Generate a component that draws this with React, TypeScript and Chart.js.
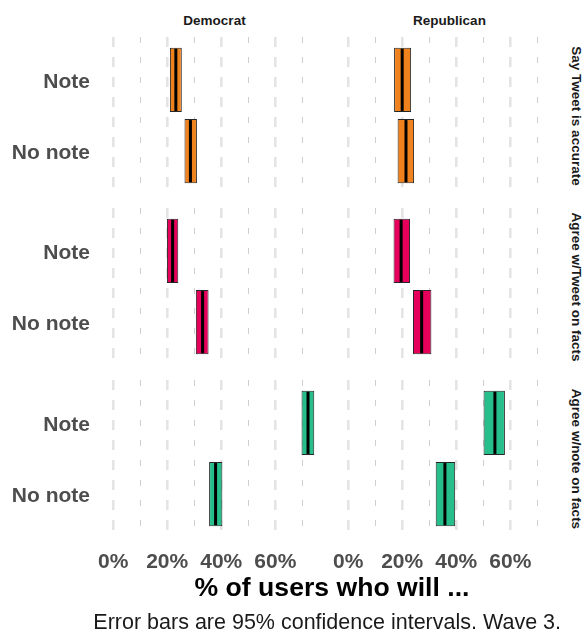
import React, { useEffect, useRef } from 'react';
import { Chart, registerables } from 'chart.js';

Chart.register(...registerables);

const categories = ['Note', 'No note'];
const parties = ['Democrat', 'Republican'];
const measures = ['Say Tweet is accurate', 'Agree w/Tweet on facts', 'Agree w/note on facts'];

// rows: measures; columns in each row: categories (Note, No note)
const demLow = [[21.0, 26.4], [19.9, 30.6], [69.7, 35.5]];
const demMean = [[23.2, 28.6], [22.0, 33.1], [72.1, 37.9]];
const demHigh = [[25.4, 31.0], [24.1, 35.3], [74.4, 40.4]];

const repLow = [[17.0, 18.3], [16.8, 24.0], [50.1, 32.4]];
const repMean = [[20.0, 21.4], [19.6, 27.2], [54.3, 35.8]];
const repHigh = [[23.3, 24.4], [22.9, 30.8], [58.0, 39.6]];

const xTicks = [0, 10, 20, 30, 40, 50, 60, 70];
const xMin = -3.75;
const xMax = 78.75;

const rowColors = ['#F0821E', '#E6005C', '#26BF8C'];

const xTitle = '% of users who will ...';
const caption = 'Error bars are 95% confidence intervals. Wave 3.';

const FONT = '"Liberation Sans", Arial, Helvetica, sans-serif';

const colLeft = [0, 326];
const colWidth = [326, 235];
const yAxisWidth = [103, 12];
const rowTop = [37, 208, 380];
const rowHeight = 157;
const xAxisHeight = 40;

const meanLinePlugin = {
  id: 'meanLine',
  afterDatasetsDraw(chart: any) {
    const ds: any = chart.data.datasets[0];
    const meta = chart.getDatasetMeta(0);
    const xs = chart.scales.x;
    const ctx = chart.ctx;
    ctx.save();
    ctx.strokeStyle = '#000000';
    ctx.lineWidth = 3;
    meta.data.forEach((el: any, i: number) => {
      const p = el.getProps(['y', 'height'], true);
      const px = xs.getPixelForValue(ds.means[i]);
      ctx.beginPath();
      ctx.moveTo(px, p.y - p.height / 2 + 1);
      ctx.lineTo(px, p.y + p.height / 2 - 1);
      ctx.stroke();
    });
    ctx.restore();
  },
};

function Panel({ row, col }: { row: number; col: number }) {
  const ref = useRef<HTMLCanvasElement | null>(null);
  useEffect(() => {
    const low = col === 0 ? demLow[row] : repLow[row];
    const mean = col === 0 ? demMean[row] : repMean[row];
    const high = col === 0 ? demHigh[row] : repHigh[row];
    const isBottom = row === 2;
    const isLeft = col === 0;
    const chart = new Chart(ref.current as HTMLCanvasElement, {
      type: 'bar',
      data: {
        datasets: [
          {
            data: categories.map((c, i) => ({ x: [low[i], high[i]], y: i + 1 })),
            means: mean,
            backgroundColor: rowColors[row],
            borderColor: '#262626',
            borderWidth: 1,
            borderSkipped: false,
            barPercentage: 0.9,
            categoryPercentage: 1,
          } as any,
        ],
      },
      options: {
        indexAxis: 'y',
        animation: false,
        responsive: true,
        maintainAspectRatio: false,
        layout: { padding: 0 },
        events: [],
        plugins: {
          legend: { display: false },
          tooltip: { enabled: false },
          title: { display: false },
        },
        scales: {
          x: {
            type: 'linear',
            min: xMin,
            max: xMax,
            afterBuildTicks: (s: any) => {
              s.ticks = xTicks.map((v) => ({ value: v }));
            },
            afterFit: (s: any) => {
              s.height = isBottom ? xAxisHeight : 0;
              s.paddingLeft = 0;
              s.paddingRight = 0;
              s.paddingTop = 0;
              s.paddingBottom = 0;
            },
            ticks: {
              display: isBottom,
              autoSkip: false,
              maxRotation: 0,
              minRotation: 0,
              padding: 13,
              color: '#4D4D4D',
              font: { family: FONT, size: 21, weight: 'bold' },
              callback: (v: any) => (Number(v) % 20 === 0 ? `${v}%` : ''),
            },
            grid: {
              display: true,
              drawTicks: false,
              color: (ctx: any) => (ctx.tick && ctx.tick.value % 20 === 0 ? '#E4E4E4' : '#CFCFCF'),
              lineWidth: (ctx: any) => (ctx.tick && ctx.tick.value % 20 === 0 ? 2.6 : 1),
            },
            border: {
              display: false,
              dash: (ctx: any) => (ctx.tick && ctx.tick.value % 20 === 0 ? [10, 10] : [6, 14]),
            },
          },
          y: {
            type: 'linear',
            min: 0.4,
            max: 2.6,
            reverse: true,
            offset: false,
            afterBuildTicks: (s: any) => {
              s.ticks = categories.map((c, i) => ({ value: i + 1 }));
            },
            afterFit: (s: any) => {
              s.width = yAxisWidth[col];
              s.paddingLeft = 0;
              s.paddingRight = 0;
              s.paddingTop = 0;
              s.paddingBottom = 0;
            },
            ticks: {
              display: isLeft,
              autoSkip: false,
              padding: 13,
              labelOffset: 2,
              color: '#4D4D4D',
              font: { family: FONT, size: 21, weight: 'bold' },
              callback: (v: any) => categories[Math.round(Number(v)) - 1] ?? '',
            },
            grid: { display: false, drawTicks: false, offset: false },
            border: { display: false },
          },
        },
      } as any,
      plugins: [meanLinePlugin],
    });
    return () => chart.destroy();
  }, [row, col]);

  const h = rowHeight + (row === 2 ? xAxisHeight : 0);
  return (
    <div
      style={{
        position: 'absolute',
        left: colLeft[col],
        top: rowTop[row],
        width: colWidth[col],
        height: h,
      }}
    >
      <canvas ref={ref} />
    </div>
  );
}

export default function App() {
  const panels: React.ReactNode[] = [];
  measures.forEach((m, r) => {
    parties.forEach((p, c) => {
      panels.push(<Panel key={`${r}-${c}`} row={r} col={c} />);
    });
  });
  const panelLeft = [colLeft[0] + yAxisWidth[0], colLeft[1] + yAxisWidth[1]];
  const panelRight = [colLeft[0] + colWidth[0], colLeft[1] + colWidth[1]];
  const panelCenterX = [(panelLeft[0] + panelRight[0]) / 2, (panelLeft[1] + panelRight[1]) / 2];
  return (
    <div
      style={{
        position: 'absolute',
        left: 0,
        top: 0,
        width: 585,
        height: 633,
        background: '#ffffff',
        fontFamily: FONT,
        overflow: 'hidden',
      }}
    >
      {parties.map((p, c) => (
        <div
          key={p}
          style={{
            position: 'absolute',
            left: panelCenterX[c],
            top: 20,
            transform: 'translate(-50%, -50%)',
            fontSize: 13.5,
            fontWeight: 'bold',
            color: '#1A1A1A',
            whiteSpace: 'nowrap',
          }}
        >
          {p}
        </div>
      ))}
      {measures.map((m, r) => (
        <div
          key={m}
          style={{
            position: 'absolute',
            left: 576,
            top: rowTop[r] + rowHeight / 2,
            transform: 'translate(-50%, -50%) rotate(90deg)',
            fontSize: 13.5,
            fontWeight: 'bold',
            color: '#1A1A1A',
            whiteSpace: 'nowrap',
          }}
        >
          {m}
        </div>
      ))}
      {panels}
      <div
        style={{
          position: 'absolute',
          left: (panelLeft[0] + panelRight[1]) / 2,
          top: 587,
          transform: 'translate(-50%, -50%)',
          fontSize: 26.6,
          fontWeight: 'bold',
          color: '#000000',
          whiteSpace: 'nowrap',
        }}
      >
        {xTitle}
      </div>
      <div
        style={{
          position: 'absolute',
          right: 585 - panelRight[1],
          top: 622,
          transform: 'translateY(-50%)',
          fontSize: 21.5,
          color: '#1A1A1A',
          whiteSpace: 'nowrap',
        }}
      >
        {caption}
      </div>
    </div>
  );
}
